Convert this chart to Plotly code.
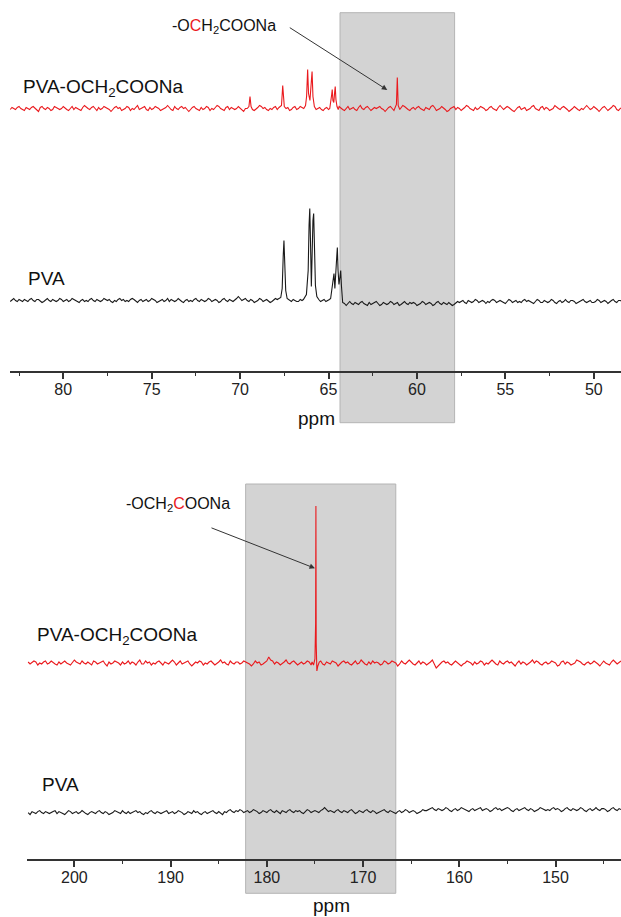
import numpy as np
import plotly.graph_objects as go

W, H = 621, 917

# ---------------- 13C NMR data: 45-85 ppm window ----------------
# uniform grid (ppm) with baseline noise
ppm_top = np.round(np.arange(48.4, 83.05, 0.1), 2)

noise_top_mod = [
    1, 0, -2, -1, 2, 3, 1, -1, -2, 0, 2, 1, -1, -3, -1, 1, 2, 0, -1, 1,
    3, 1, -1, 0, -2, -1, 1, 2, 0, -2, -3, -1, 1, 2, 1, -1, 0, 2, 3, 0,
    -1, -2, 0, 1, -1, 2, 1, -2, -1, 0, 3, 2, 0, -1, -2, 1, 0, -1, 2, 1,
    -1, -3, -2, 0, 1, 2, 0, -1, 1, 3, 1, -2, -1, 0, 2, 1, -1, -2, 0, 1,
    2, 0, -1, 1, -2, -1, 0, 2, 3, 1, -1, -2, 0, 1, -1, 2, 1, 0, -2, -3,
    -1, 1, 2, 0, -1, -2, 1, 3, 2, -1, 0, 1, -2, -1, 0, 2, 1, -1, 1, 0,
    -2, -1, 1, 2, 3, 0, -1, 1, -1, -2, 0, 2, 1, -1, -3, -1, 0, 2, 1, 0,
    1, -1, -2, 0, 2, 1, -1, 0, 3, 1, -2, -1, 1, 0, -1, 2, 0, -2, -1, 1,
    2, 3, 1, -1, 0, -2, -1, 1, 0, 2, -1, -3, -1, 1, 2, 0, 1, -1, -2, 0,
    1, 2, 0, -1, 1, -2, -1, 0, 3, 2, 0, -1, -2, 1, 0, -1, 2, 1, -1, 0,
    -2, -1, 1, 0, 2, 3, 1, -1, -2, 0, 1, -1, 2, 0, -3, -1, 1, 2, 0, -1,
    0, 1, -1, 2, 1, -2, -1, 0, 2, 3, 1, -1, 0, -2, 1, 2, 0, -1, 1, -2,
    -1, 0, 2, 1, -1, -3, -1, 1, 0, 2, 1, -1, 0, 2, -2, -1, 1, 3, 1, 0,
    -1, -2, 0, 1, 2, 0, -1, 1, -2, -1, 2, 1, 0, -1, 3, 1, -1, 0, -2, 1,
    2, 0, -1, -2, 1, 0, 2, 1, -1, -3, -1, 0, 1, 2, 0, -1, 1, -2, 0, 2,
    1, -1, 0, 2, 3, 1, -2, -1, 0, 1, -1, 2, 0, -2, -1, 1, 2, 0, -1, 0,
    1, 2, -1, -2, 0, 1, -1, 0, 2, 1, -3, -1, 0, 2, 1, -1, 0, 1, -2, -1,
    0, 2, 1, -1, 0, 1, -1,
]
noise_top_pva = [
    -1, 0, 0, -2, -1, 1, 0, -2, -3, -1, 0, -1, -2, 0, 1, -1, -2, -2, 0, -1,
    -2, -1, 1, 0, -1, -2, -3, -1, 0, 0, -2, -1, 1, -1, -2, 0, -1, -3, -2, 0,
    1, -1, -2, -1, 0, -2, -2, 0, 1, -1, -3, -2, -1, 0, -1, 1, 0, -2, -1, -2,
    0, -1, -2, 0, 1, -1, -3, -2, -1, 0, -1, -2, 0, 1, 0, -2, -1, -3, -1, 0,
    -1, -2, 0, 1, -1, -2, -1, 0, -3, -2, 0, -1, -2, -1, -3, -4, -5, -3, -2, -4,
    -3, -2, -4, -3, -1, -2, -4, -5, -3, -2, -3, -4, -2, -1, -3, -4, -5, -3, -2, -3,
    -2, -4, -3, -1, -3, -4, -5, -2, -3, -4, -2, -1, -3, -4, -3, -2, -4, -5, -3, -1,
    -2, -3, -4, -2, -5, -4, -3, -1, -2, -4, -3, -2, -4, -3, -1, -3, -5, -4, -2, -3,
    0, 1, -1, 2, 0, -1, 1, 0, -2, 1, 0, -1, 1, 2, 0, -1, 0, 1, -1, 0,
    -1, 0, 1, 2, 0, -1, -2, 0, 1, 0, 2, 1, -1, 0, -1, 1, 2, 0, -1, -2,
    0, 1, 0, -1, 1, 2, 0, -1, -2, 0, 1, -1, 0, 2, 1, 0, 2, 4, 2, 0,
    -1, 0, 1, -1, 0, 2, 1, -1, -2, 0, 1, 0, -1, 1, 2, 0, -1, 0, 1, -1,
    0, 2, 1, -1, 0, -1, 1, 0, -2, -1, 1, 2, 0, -1, 0, 1, -1, 2, 0, -1,
    1, 0, -1, -2, 0, 1, 2, 0, -1, 1, 0, -1, 1, 0, -2, 0, 1, 2, 1, -1,
    0, -1, 1, 0, 2, 1, -1, 0, -2, -1, 1, 0, 1, 2, 0, -1, 0, 1, -1, 0,
    2, 1, -1, 0, -1, 1, 0, -2, -1, 0, 1, 2, 0, -1, 1, 0, -1, 1, 2, 0,
    -1, 0, 1, -1, 0, 2, 0, -1, -2, 0, 1, 1, -1, 0, 2, 1, -1, 0, 1, -1,
    0, 1, -1, 0, 2, 0, -1,
]

# resolved signal regions (ppm, intensity)
peaks_top_mod = [
    ([69.6, 69.5, 69.44, 69.38, 69.3],
     [0, 2, 12, 2, -1]),
    ([67.8, 67.66, 67.62, 67.59, 67.55, 67.5, 67.4, 67.3, 67.2, 67.1, 67.0, 66.9,
      66.8, 66.7, 66.6, 66.5, 66.4, 66.3, 66.24, 66.18, 66.13, 66.05, 65.98,
      65.93, 65.88, 65.8, 65.7, 65.6, 65.5, 65.4, 65.3, 65.2, 65.1, 65.0, 64.93,
      64.87, 64.82, 64.79, 64.75, 64.7, 64.66, 64.62, 64.58, 64.52, 64.45],
     [1, 3, 14, 23, 12, 2, 0, 1, -2, -1, 1, 2,
      -1, 0, 2, 1, 0, 3, 12, 39, 15, 8, 20,
      37, 12, 2, -1, 0, 1, -1, -2, 0, 1, -1, 0,
      4, 14, 19, 8, 6, 15, 22, 9, 2, -1]),
    ([61.25, 61.16, 61.11, 61.06, 60.97],
     [1, 4, 31, 3, -1]),
]
peaks_top_pva = [
    ([67.85, 67.7, 67.62, 67.56, 67.52, 67.48, 67.42, 67.34, 67.2, 67.1, 67.0,
      66.9, 66.8, 66.7, 66.6, 66.5, 66.42, 66.35, 66.25, 66.15, 66.1, 66.06,
      66.02, 65.97, 65.93, 65.88, 65.84, 65.8, 65.74, 65.66, 65.55, 65.45,
      65.35, 65.25, 65.15, 65.05, 64.95, 64.88, 64.82, 64.74, 64.69, 64.64,
      64.59, 64.53, 64.5, 64.46, 64.41, 64.35, 64.31, 64.27, 64.2, 64.1],
     [1, 3, 12, 45, 60, 42, 10, 2, 0, -1, 1,
      0, -1, -1, 1, 0, 1, 2, 6, 30, 75, 92,
      60, 14, 40, 80, 87, 55, 15, 4, 1, -1,
      0, 1, -1, 0, 1, 2, 6, 20, 27, 12,
      18, 45, 53, 30, 16, 24, 30, 15, -2, -3]),
]

# ---------------- 13C NMR data: 140-205 ppm window ----------------
ppm_bot = np.round(np.arange(143.2, 204.85, 0.2), 2)

noise_bot_mod = [
    2, 0, -1, 1, 3, 1, -2, -1, 0, 2, -1, -3, -1, 1, 2, 0, -1, 1, 0, -2,
    -1, 1, 2, 3, 0, -1, -2, 0, 1, -1, 2, 1, -2, -3, 0, 1, 2, 0, -1, 1,
    0, -2, -1, 1, 2, 0, 3, 1, -1, -2, 0, 1, -1, 2, 0, -3, -1, 1, 0, 2,
    1, -1, 0, 2, -2, -1, 1, 3, 1, -1, 0, -2, 1, 2, 0, -1, 1, -2, 0, 1,
    2, 0, -1, -3, -1, 1, 2, 0, -2, -1, 1, 0, 2, 1, -1, -2, -5, -1, 3, 1,
    -1, -2, 0, 1, -1, 2, 0, -2, -1, 1, 3, 1, -1, 0, 2, -1, -3, 0, 1, 2,
    0, -1, 1, 2, -1, -2, 0, 1, 0, 2, -1, 1, -2, -1, 1, 3, 0, -1, 2, 0,
    -2, -1, 1, 0, 2, 1, -1, -3, 0, 1, 2, -1, 0, 1, -2, -1, 2, 3, 1, -1,
    0, -2, 1, 2, 0, -1, 1, -1, -2, 0, 2, 1, -1, 0, 3, 1, -1, -2, 0, 1,
    -1, 2, 3, 6, 2, 0, -1, -2, 1, 0, 2, -1, -3, -1, 0, 1, 2, 0, -1, 1,
    1, -1, 0, 2, -2, -1, 1, 0, 3, 1, -1, -2, 0, 2, 1, -1, 0, -2, 1, 2,
    0, 1, -1, -3, -1, 2, 1, 0, -1, 2, 0, -2, 1, 3, 1, -1, 0, 1, -2, 0,
    2, 1, -1, 0, -2, 1, 0, 2, -1, -1, 3, 1, -2, 0, 1, -1, 2, 0, -1, 1,
    -2, 0, 1, 2, 0, -1, 1, -3, -1, 2, 1, 0, -1, 1, 2, -2, 0, 1, -1, 0,
    2, -1, 0, 1, 3, 1, -2, -1, 0, 2, 0, -1, 1, -2, -1, 1, 2, 0, -1, 2,
    1, -1, 0, -2, 1, 2, 0, -1, 1,
]
noise_bot_pva = [
    3, 4, 2, 3, 5, 4, 2, 1, 3, 4, 4, 2, 3, 5, 3, 2, 4, 3, 1, 2,
    4, 5, 3, 2, 3, 4, 2, 3, 5, 4, 2, 1, 3, 4, 3, 5, 4, 2, 3, 2,
    3, 4, 5, 3, 2, 1, 3, 4, 2, 3, 5, 4, 3, 2, 4, 3, 1, 2, 4, 5,
    4, 3, 2, 4, 3, 5, 4, 2, 1, 3, 4, 3, 2, 5, 4, 3, 2, 4, 3, 1,
    2, 3, 4, 5, 3, 2, 4, 3, 1, 2, 4, 5, 3, 2, 3, 4, 2, 3, 5, 4,
    3, 2, 2, 3, 1, 0, -1, 1, 2, 1, 0, 2, 3, 1, 0, 2, 1, -1, 0, 1,
    2, 0, 1, 3, 2, 1, 0, -1, 1, 2, 0, 1, 3, 2, 0, 1, 2, 0, -1, 1,
    3, 2, 0, 1, 2, 0, 1, 3, 2, 0, 1, 2, 1, 3, 5, 3, 2, 0, 1, 2,
    1, 0, 2, 3, 1, -1, 0, 2, 1, 2, 0, 1, 3, 2, 0, 1, 2, -1, 1, 2,
    0, 1, 3, 2, 0, 1, 2, 0, -1, 1, 2, 3, 1, 0, 2, 1, 0, 2, 3, 1,
    2, 0, 1, 3, 2, 0, 1, -2, 0, 1, -1, 0, 2, 1, 0, -1, 1, 0, -2, -1,
    1, 0, 2, -1, 0, 1, -1, -2, 0, 1, 2, 0, -1, 1, 0, -1, 2, 1, 0, -1,
    0, 1, -1, 0, 2, 1, -1, 0, -2, -1, 1, 0, 2, 1, 0, -1, 1, -1, 0, 2,
    -1, 0, 1, 2, 0, -1, -2, 0, 1, -1, 0, 2, 1, -1, 0, 1, 0, -2, -1, 1,
    2, 0, -1, 1, 0, -1, 1, 2, 0, -2, -1, 0, 1, -1, 2, 1, 0, -1, 0, 1,
    -1, 0, 2, 1, -1, 0, 1, -2, 0,
]

peaks_bot_mod = [
    ([175.3, 175.15, 175.0, 174.93, 174.9, 174.87, 174.8, 174.7, 174.55],
     [1, -2, 4, 40, 157, 20, -8, -3, 1]),
]
peaks_bot_pva = []

# stacking offsets of the traces inside each panel
offset_top = {"mod": 262.5, "pva": 70.5}
offset_bot = {"mod": 196.0, "pva": 46.4}

RED = "#ea1a1e"
BLACK = "#1a1a1a"
AXIS = "#333333"
FONT = "Arial, Liberation Sans, sans-serif"


def build(grid, noise, regions, offset):
    assert len(grid) == len(noise)
    pts = list(zip(grid.tolist(), noise))
    for px, py in regions:
        lo, hi = min(px), max(px)
        pts = [(x, y) for x, y in pts if not (lo <= x <= hi)]
        pts += list(zip(px, py))
    pts.sort(key=lambda p: p[0])
    xs = [p[0] for p in pts]
    ys = [p[1] + offset for p in pts]
    return xs, ys


def fy(py):
    return (H - py) / H


def fx(px):
    return px / W


fig = go.Figure()
for noise, regions, key, color in [
    (noise_top_mod, peaks_top_mod, "mod", RED),
    (noise_top_pva, peaks_top_pva, "pva", BLACK),
]:
    xs, ys = build(ppm_top, noise, regions, offset_top[key])
    fig.add_trace(go.Scatter(x=xs, y=ys, mode="lines", xaxis="x", yaxis="y",
                             line=dict(color=color, width=1.1), showlegend=False,
                             hoverinfo="skip"))
for noise, regions, key, color in [
    (noise_bot_mod, peaks_bot_mod, "mod", RED),
    (noise_bot_pva, peaks_bot_pva, "pva", BLACK),
]:
    xs, ys = build(ppm_bot, noise, regions, offset_bot[key])
    fig.add_trace(go.Scatter(x=xs, y=ys, mode="lines", xaxis="x2", yaxis="y2",
                             line=dict(color=color, width=1.1), showlegend=False,
                             hoverinfo="skip"))

axis_common = dict(
    showline=True, linecolor=AXIS, linewidth=1.6,
    ticks="outside", ticklen=6, tickwidth=1.5, tickcolor=AXIS,
    showgrid=False, zeroline=False,
    tickfont=dict(family=FONT, size=16, color="#222"),
    ticklabelstandoff=-3,
)

fig.update_layout(
    width=W, height=H,
    margin=dict(l=0, r=0, t=0, b=0),
    paper_bgcolor="white", plot_bgcolor="rgba(0,0,0,0)",
    font=dict(family=FONT, color="#111"),
    xaxis=dict(domain=[fx(9.5), 1], range=[83.04, 48.46], anchor="y",
               dtick=5, tick0=0,
               minor=dict(ticks="outside", ticklen=3, dtick=2.5, tick0=0,
                          tickcolor=AXIS, tickwidth=1.2),
               **axis_common),
    yaxis=dict(domain=[fy(371), 1], range=[0, 371], visible=False,
               anchor="x", fixedrange=True),
    xaxis2=dict(domain=[fx(26.7), 1], range=[204.95, 143.2], anchor="y2",
                dtick=10, tick0=0,
                minor=dict(ticks="outside", ticklen=3, dtick=5, tick0=0,
                           tickcolor=AXIS, tickwidth=1.2),
                **axis_common),
    yaxis2=dict(domain=[fy(859), fy(470)], range=[0, 389], visible=False,
                anchor="x2", fixedrange=True),
)

# shaded windows marking the carboxymethyl carbons
box_style = dict(type="rect", fillcolor="#d3d3d3", line=dict(color="#b4b4b4", width=1),
                 layer="below")
fig.add_shape(xref="x", yref="paper", x0=64.35, x1=57.87, y0=fy(422.7), y1=fy(12.7),
              **box_style)
fig.add_shape(xref="x2", yref="paper", x0=182.2, x1=166.6, y0=fy(893.3), y1=fy(484),
              **box_style)

label_font = dict(family=FONT, size=19, color="#111")
small_font = dict(family=FONT, size=16, color="#111")
sample_mod = "PVA-OCH<sub>2</sub>COONa"
sample_pva = "PVA"
carbon_ch2 = '-O<span style="color:#ea1a1e">C</span>H<sub>2</sub>COONa'
carbon_coo = '-OCH<sub>2</sub><span style="color:#ea1a1e">C</span>OONa'

annotations = [
    dict(text=sample_mod, x=fx(21), y=fy(88), xanchor="left", yanchor="middle", font=label_font),
    dict(text=sample_pva, x=fx(26), y=fy(278), xanchor="left", yanchor="middle", font=label_font),
    dict(text=sample_mod, x=fx(35), y=fy(636), xanchor="left", yanchor="middle", font=label_font),
    dict(text=sample_pva, x=fx(40), y=fy(784), xanchor="left", yanchor="middle", font=label_font),
    dict(text=carbon_ch2, x=fx(170), y=fy(27), xanchor="left", yanchor="middle", font=small_font),
    dict(text=carbon_coo, x=fx(124), y=fy(504), xanchor="left", yanchor="middle", font=small_font),
    dict(text="ppm", x=fx(316), y=fy(418), xanchor="center", yanchor="middle", font=label_font),
    dict(text="ppm", x=fx(331), y=fy(905), xanchor="center", yanchor="middle", font=label_font),
]
for a in annotations:
    a.update(xref="paper", yref="paper", showarrow=False)
    fig.add_annotation(**a)

# pointer arrows to the assigned signals
for head, tail in [((387.3, 90.0), (288.3, 26.7)), ((315.0, 568.3), (210.0, 527.3))]:
    fig.add_annotation(xref="paper", yref="paper", x=fx(head[0]), y=fy(head[1]),
                       ax=tail[0] - head[0], ay=tail[1] - head[1], text="",
                       showarrow=True, arrowhead=2, arrowsize=1.1, arrowwidth=1,
                       arrowcolor="#333")

fig.write_html("out.html")
